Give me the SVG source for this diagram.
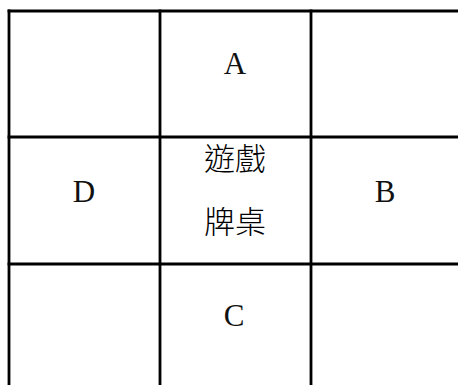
<svg xmlns="http://www.w3.org/2000/svg" width="458" height="385" viewBox="0 0 458 385">
<style>
.ln{stroke:#000;stroke-width:2.8;fill:none}
.lt{font-family:"Liberation Serif",serif;font-size:31px;fill:#111;text-anchor:middle}
.cj{font-family:"Noto Sans CJK TC",sans-serif;font-size:31px;font-weight:300;fill:#000;text-anchor:middle}
</style>
<rect width="458" height="385" fill="#fff"/>
<g id="connectors">
<line class="ln" x1="7.6" y1="11" x2="458" y2="11"/>
<line class="ln" x1="7.6" y1="137" x2="458" y2="137"/>
<line class="ln" x1="7.6" y1="264" x2="458" y2="264"/>
<line class="ln" x1="9" y1="9.6" x2="9" y2="385"/>
<line class="ln" x1="160" y1="9.6" x2="160" y2="385"/>
<line class="ln" x1="311" y1="9.6" x2="311" y2="385"/>
</g>
<g id="nodeA"><text class="lt" x="235" y="74">A</text></g>
<g id="nodeD"><text class="lt" x="84" y="202">D</text></g>
<g id="nodeB"><text class="lt" x="385" y="202">B</text></g>
<g id="nodeC"><text class="lt" x="234" y="326">C</text></g>
<g id="nodeTable">
<text class="cj" x="235" y="170">遊戲</text>
<text class="cj" x="235" y="233">牌桌</text>
</g>
</svg>
